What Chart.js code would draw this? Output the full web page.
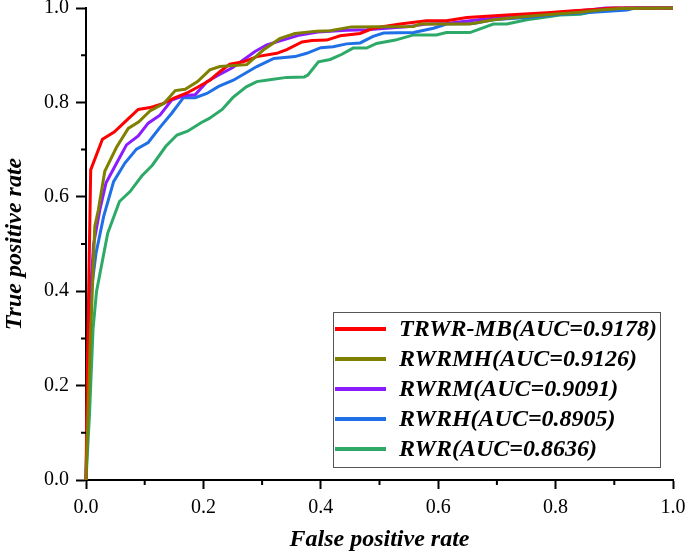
<!DOCTYPE html>
<html>
<head>
    <title>ROC curves</title>
    <script src="https://cdn.jsdelivr.net/npm/chart.js"></script>
    <style>
        body {
            margin: 0;
            background: white;
        }
        .chart-container {
            width: 685px;
            height: 556px;
            position: relative;
        }
    </style>
</head>
<body>
    <div class="chart-container">
        <canvas id="rocChart"></canvas>
    </div>

    <script>
        // Curve data (false positive rate / true positive rate)
        const seriesNames = [
            'TRWR-MB(AUC=0.9178)',
            'RWRMH(AUC=0.9126)',
            'RWRM(AUC=0.9091)',
            'RWRH(AUC=0.8905)',
            'RWR(AUC=0.8636)'
        ];

        const trwrFpr = [0, 0.002, 0.008, 0.028, 0.048, 0.070, 0.089, 0.109, 0.132, 0.150, 0.172, 0.190, 0.211, 0.228, 0.245, 0.268, 0.291, 0.325, 0.342, 0.368, 0.385, 0.410, 0.433, 0.467, 0.489, 0.535, 0.580, 0.614, 0.649, 0.717, 0.785, 0.819, 0.864, 0.900, 1.0];
        const trwrTpr = [0, 0.21, 0.657, 0.722, 0.737, 0.763, 0.785, 0.789, 0.798, 0.809, 0.820, 0.832, 0.847, 0.865, 0.881, 0.886, 0.897, 0.904, 0.912, 0.928, 0.931, 0.932, 0.941, 0.946, 0.957, 0.966, 0.973, 0.973, 0.980, 0.985, 0.990, 0.993, 0.997, 1.0, 1.0];

        const rwrmhFpr = [0, 0.007, 0.015, 0.021, 0.032, 0.052, 0.072, 0.090, 0.109, 0.133, 0.152, 0.169, 0.190, 0.211, 0.228, 0.274, 0.302, 0.330, 0.356, 0.393, 0.416, 0.452, 0.558, 0.569, 0.654, 0.694, 0.739, 0.796, 0.842, 0.876, 0.910, 1.0];
        const rwrmhTpr = [0, 0.28, 0.537, 0.572, 0.654, 0.705, 0.745, 0.759, 0.782, 0.798, 0.825, 0.828, 0.844, 0.869, 0.876, 0.880, 0.911, 0.935, 0.946, 0.951, 0.952, 0.960, 0.961, 0.966, 0.966, 0.975, 0.981, 0.987, 0.991, 0.996, 0.999, 1.0];

        const rwrmFpr = [0, 0.005, 0.013, 0.024, 0.034, 0.052, 0.069, 0.089, 0.106, 0.126, 0.146, 0.166, 0.186, 0.206, 0.226, 0.250, 0.288, 0.308, 0.335, 0.365, 0.395, 0.444, 0.478, 0.546, 0.580, 0.614, 0.683, 0.762, 0.819, 0.864, 0.885, 1.0];
        const rwrmTpr = [0, 0.35, 0.50, 0.575, 0.629, 0.671, 0.710, 0.729, 0.756, 0.773, 0.805, 0.814, 0.816, 0.844, 0.858, 0.874, 0.908, 0.922, 0.932, 0.943, 0.949, 0.953, 0.954, 0.960, 0.966, 0.967, 0.977, 0.985, 0.992, 0.997, 1.0, 1.0];

        const rwrhFpr = [0, 0.003, 0.007, 0.017, 0.030, 0.047, 0.066, 0.086, 0.106, 0.126, 0.146, 0.166, 0.186, 0.206, 0.226, 0.251, 0.291, 0.320, 0.356, 0.376, 0.400, 0.421, 0.444, 0.467, 0.489, 0.507, 0.558, 0.592, 0.614, 0.660, 0.694, 0.762, 0.808, 0.876, 0.922, 0.935, 1.0];
        const rwrhTpr = [0, 0.15, 0.381, 0.480, 0.558, 0.632, 0.671, 0.701, 0.715, 0.747, 0.777, 0.810, 0.810, 0.819, 0.834, 0.847, 0.876, 0.893, 0.897, 0.904, 0.916, 0.918, 0.924, 0.926, 0.940, 0.947, 0.948, 0.957, 0.966, 0.967, 0.975, 0.981, 0.987, 0.992, 0.996, 1.0, 1.0];

        const rwrFpr = [0, 0.006, 0.012, 0.018, 0.037, 0.057, 0.075, 0.095, 0.113, 0.136, 0.155, 0.173, 0.196, 0.210, 0.232, 0.250, 0.273, 0.291, 0.313, 0.342, 0.372, 0.378, 0.396, 0.416, 0.436, 0.455, 0.478, 0.495, 0.527, 0.558, 0.597, 0.614, 0.654, 0.694, 0.717, 0.751, 0.808, 0.842, 0.864, 0.904, 0.920, 1.0];
        const rwrTpr = [0, 0.14, 0.32, 0.40, 0.523, 0.590, 0.611, 0.644, 0.667, 0.707, 0.731, 0.739, 0.757, 0.766, 0.785, 0.810, 0.833, 0.844, 0.848, 0.853, 0.854, 0.858, 0.886, 0.891, 0.902, 0.915, 0.915, 0.925, 0.932, 0.943, 0.943, 0.948, 0.948, 0.966, 0.966, 0.975, 0.985, 0.987, 0.992, 0.997, 1.0, 1.0];

        const tickLabels = ['0.0', '0.2', '0.4', '0.6', '0.8', '1.0'];
        const minorTicks = [0.1, 0.3, 0.5, 0.7, 0.9];

        const colors = ['#ff0000', '#808000', '#8a1cff', '#1f70e6', '#2eaa68'];
        const drawOrder = [1, 0, 2, 3, 4];

        const toPoints = (xs, ys) => xs.map((x, i) => ({ x: x, y: ys[i] }));
        const curves = [
            toPoints(trwrFpr, trwrTpr),
            toPoints(rwrmhFpr, rwrmhTpr),
            toPoints(rwrmFpr, rwrmTpr),
            toPoints(rwrhFpr, rwrhTpr),
            toPoints(rwrFpr, rwrTpr)
        ];

        const serif = "'Liberation Serif', 'Times New Roman', serif";

        // minor ticks at the half steps, shorter than the major ones
        const minorTickPlugin = {
            id: 'minorTicks',
            afterDraw(chart) {
                const ctx = chart.ctx;
                const xs = chart.scales.x, ys = chart.scales.y;
                const area = chart.chartArea;
                ctx.save();
                ctx.strokeStyle = '#000';
                ctx.lineWidth = 2;
                ctx.beginPath();
                minorTicks.forEach(v => {
                    const px = xs.getPixelForValue(v);
                    ctx.moveTo(px, area.bottom);
                    ctx.lineTo(px, area.bottom + 5);
                    const py = ys.getPixelForValue(v);
                    ctx.moveTo(area.left, py);
                    ctx.lineTo(area.left - 5, py);
                });
                ctx.stroke();
                ctx.restore();
            }
        };

        // boxed legend inside the plot, lower right
        const boxLegendPlugin = {
            id: 'boxLegend',
            afterDraw(chart) {
                const ctx = chart.ctx;
                const area = chart.chartArea;
                const w = 327, h = 155;
                const left = area.right - 13 - w;
                const top = area.bottom - 13 - h;
                ctx.save();
                ctx.fillStyle = '#fff';
                ctx.fillRect(left, top, w, h);
                ctx.strokeStyle = '#555';
                ctx.lineWidth = 1;
                ctx.strokeRect(left + 0.5, top + 0.5, w, h);
                ctx.font = "bold italic 24px " + serif;
                ctx.textBaseline = 'middle';
                ctx.fillStyle = '#000';
                chart.data.datasets.forEach((ds, i) => {
                    const y = top + 17 + i * 30;
                    ctx.strokeStyle = ds.borderColor;
                    ctx.lineWidth = 4;
                    ctx.beginPath();
                    ctx.moveTo(left + 2, y);
                    ctx.lineTo(left + 53, y);
                    ctx.stroke();
                    ctx.fillText(ds.label, left + 66, y + 1);
                });
                ctx.restore();
            }
        };

        const ctx = document.getElementById('rocChart').getContext('2d');
        const chart = new Chart(ctx, {
            type: 'line',
            data: {
                datasets: curves.map((pts, i) => ({
                    label: seriesNames[i],
                    data: pts,
                    borderColor: colors[i],
                    backgroundColor: colors[i],
                    borderWidth: 3,
                    pointRadius: 0,
                    tension: 0,
                    fill: false,
                    clip: 6,
                    order: drawOrder[i]
                }))
            },
            options: {
                responsive: true,
                maintainAspectRatio: false,
                animation: false,
                layout: {
                    padding: { left: 0, right: 12, top: 8, bottom: 0 }
                },
                plugins: {
                    legend: { display: false },
                    tooltip: { enabled: false }
                },
                scales: {
                    x: {
                        type: 'linear',
                        min: 0,
                        max: 1,
                        border: { display: true, color: '#000', width: 2 },
                        grid: {
                            drawOnChartArea: false,
                            drawTicks: true,
                            tickLength: 9,
                            tickWidth: 2,
                            tickColor: '#000'
                        },
                        ticks: {
                            stepSize: 0.2,
                            padding: 7,
                            color: '#000',
                            font: { family: serif, size: 20 },
                            maxRotation: 0,
                            callback: (v) => tickLabels[Math.round(v * 5)]
                        },
                        title: {
                            display: true,
                            text: 'False positive rate',
                            color: '#000',
                            padding: { top: 0, bottom: 2 },
                            font: { family: serif, size: 24, weight: 'bold', style: 'italic' }
                        },
                        afterFit(s) {
                            s.height = 76;
                            s.paddingLeft = 0;
                            s.paddingRight = 0;
                        }
                    },
                    y: {
                        type: 'linear',
                        min: 0,
                        max: 1,
                        border: { display: true, color: '#000', width: 2 },
                        grid: {
                            drawOnChartArea: false,
                            drawTicks: true,
                            tickLength: 10,
                            tickWidth: 2,
                            tickColor: '#000'
                        },
                        ticks: {
                            stepSize: 0.2,
                            padding: 7,
                            color: '#000',
                            font: { family: serif, size: 20 },
                            callback: (v) => tickLabels[Math.round(v * 5)]
                        },
                        title: {
                            display: true,
                            text: 'True positive rate',
                            color: '#000',
                            padding: { top: 0, bottom: 0 },
                            font: { family: serif, size: 24, weight: 'bold', style: 'italic' }
                        },
                        afterFit(s) {
                            s.width = 86;
                            s.paddingTop = 0;
                            s.paddingBottom = 0;
                        }
                    }
                }
            },
            plugins: [minorTickPlugin, boxLegendPlugin]
        });
    </script>
</body>
</html>
